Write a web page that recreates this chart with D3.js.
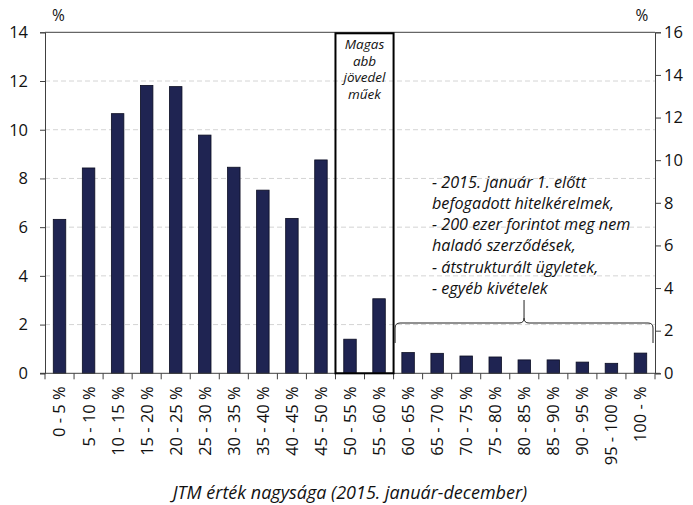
<!DOCTYPE html>
<html>
<head>
<meta charset="utf-8">
<script src="https://cdn.jsdelivr.net/npm/d3@7"></script>
<style>
  html, body { margin: 0; padding: 0; background: #fff; }
  svg { display: block; }
</style>
</head>
<body>
<svg id="chart" width="693" height="505"></svg>
<script>
// JTM value bands (share of contracts, %)
const categories = ["0 - 5 %", "5 - 10 %", "10 - 15 %", "15 - 20 %", "20 - 25 %", "25 - 30 %",
  "30 - 35 %", "35 - 40 %", "40 - 45 %", "45 - 50 %", "50 - 55 %", "55 - 60 %",
  "60 - 65 %", "65 - 70 %", "70 - 75 %", "75 - 80 %", "80 - 85 %", "85 - 90 %",
  "90 - 95 %", "95 - 100 %", "100 - %"];
const shares = [6.32, 8.43, 10.66, 11.82, 11.77, 9.78, 8.46, 7.52, 6.36, 8.76,
  1.40, 3.06, 0.85, 0.82, 0.71, 0.67, 0.55, 0.55, 0.46, 0.41, 0.83];
const leftTicks = [0, 2, 4, 6, 8, 10, 12, 14];
const rightTicks = [0, 2, 4, 6, 8, 10, 12, 14, 16];
const boxCategories = ["50 - 55 %", "55 - 60 %"];
const braceCategories = ["60 - 65 %", "100 - %"];
const boxLabel = ["Magas", "abb", "jövedel", "műek"];
const noteLines = ["- 2015. január 1. előtt", "befogadott hitelkérelmek,",
  "- 200 ezer forintot meg nem", "haladó szerződések,",
  "- átstrukturált ügyletek,", "- egyéb kivételek"];
const xTitle = "JTM érték nagysága (2015. január-december)";

const W = 693, H = 505;
const margin = { top: 32.3, right: 38, bottom: 131.7, left: 45 };
const svg = d3.select("#chart");
const font = "'Open Sans', sans-serif";

const x = d3.scaleBand().domain(categories)
  .range([margin.left, W - margin.right])
  .paddingInner(0.57).paddingOuter(0.285);
const y = d3.scaleLinear().domain([0, 14]).range([H - margin.bottom, margin.top]);
const yR = d3.scaleLinear().domain([0, 16]).range([H - margin.bottom, margin.top]);
const x0 = margin.left, x1 = W - margin.right;
const y0 = y(0), yTop = y(14);

// dashed gridlines
svg.append("g").selectAll("line")
  .data(leftTicks.filter(d => d > 0 && d < 14))
  .join("line")
  .attr("x1", x0).attr("x2", x1)
  .attr("y1", d => y(d)).attr("y2", d => y(d))
  .attr("stroke", "#d4d4d4").attr("stroke-width", 1)
  .attr("stroke-dasharray", "5,3");

// top border
svg.append("line").attr("x1", x0).attr("x2", x1).attr("y1", yTop).attr("y2", yTop)
  .attr("stroke", "#404040").attr("stroke-width", 1);

// bars
svg.append("g").selectAll("rect")
  .data(shares)
  .join("rect")
  .attr("x", (d, i) => x(categories[i]))
  .attr("width", x.bandwidth())
  .attr("y", d => y(d))
  .attr("height", d => y0 - y(d))
  .attr("fill", "#1f2452")
  .attr("stroke", "#0b0d22").attr("stroke-width", 0.8);

// left and right value axes
const leftAxis = svg.append("g").attr("transform", `translate(${x0},0)`)
  .call(d3.axisLeft(y).tickValues(leftTicks).tickSize(5).tickPadding(12).tickFormat(d3.format("d")));
const rightAxis = svg.append("g").attr("transform", `translate(${x1},0)`)
  .call(d3.axisRight(yR).tickValues(rightTicks).tickSize(6).tickPadding(3).tickFormat(d3.format("d")));
[leftAxis, rightAxis].forEach(g => {
  g.select(".domain").attr("stroke", "#404040");
  g.selectAll(".tick line").attr("stroke", "#404040");
  g.selectAll("text").attr("font-family", font).attr("font-size", 16.5).attr("fill", "#111");
});

// category axis with ticks at band boundaries
const step = x.step();
const bounds = d3.range(categories.length + 1).map(i => x0 + i * step);
svg.append("line").attr("x1", x0 - 5).attr("x2", x1 + 5).attr("y1", y0).attr("y2", y0)
  .attr("stroke", "#404040").attr("stroke-width", 1);
svg.append("g").selectAll("line").data(bounds).join("line")
  .attr("x1", d => d).attr("x2", d => d).attr("y1", y0).attr("y2", y0 + 6)
  .attr("stroke", "#404040");
svg.append("g").selectAll("text").data(categories).join("text")
  .attr("transform", d => `translate(${x(d) + x.bandwidth() / 2},${y0 + 13}) rotate(-90)`)
  .attr("text-anchor", "end").attr("dy", "0.36em")
  .attr("font-family", font).attr("font-size", 16.5).attr("fill", "#111")
  .text(d => d);

// unit labels
svg.append("text").attr("x", 58.5).attr("y", 21).attr("text-anchor", "middle")
  .attr("font-family", font).attr("font-size", 15.5).attr("fill", "#111").text("%");
svg.append("text").attr("x", 642).attr("y", 21).attr("text-anchor", "middle")
  .attr("font-family", font).attr("font-size", 15.5).attr("fill", "#111").text("%");

// framed box around the 50-60 % bands
const bx0 = x(boxCategories[0]) - x.step() * x.paddingInner() / 2;
const bx1 = x(boxCategories[1]) + x.bandwidth() + x.step() * x.paddingInner() / 2;
svg.append("rect").attr("x", bx0).attr("y", yTop + 1).attr("width", bx1 - bx0)
  .attr("height", y0 - yTop - 1)
  .attr("fill", "none").attr("stroke", "#000").attr("stroke-width", 2);
svg.append("g").selectAll("text").data(boxLabel).join("text")
  .attr("x", (bx0 + bx1) / 2).attr("y", (d, i) => 49 + i * 16.6)
  .attr("text-anchor", "middle").attr("font-family", font)
  .attr("font-style", "italic").attr("font-size", 13.5).attr("fill", "#111")
  .text(d => d);

// curly brace over the 60 %+ bands
const cx0 = x(braceCategories[0]) - x.step() * x.paddingInner() / 2 + 1.5;
const cx1 = x(braceCategories[1]) + x.bandwidth() + x.step() * x.paddingInner() / 2 - 2;
const cm = (cx0 + cx1) / 2;
const by = 323, bBot = 343, bTip = 300, r = 5;
const brace = d3.path();
brace.moveTo(cx0, bBot);
brace.lineTo(cx0, by + r);
brace.quadraticCurveTo(cx0, by, cx0 + r, by);
brace.lineTo(cm - r, by);
brace.quadraticCurveTo(cm, by, cm, by - r);
brace.lineTo(cm, bTip);
brace.moveTo(cm, by - r);
brace.quadraticCurveTo(cm, by, cm + r, by);
brace.lineTo(cx1 - r, by);
brace.quadraticCurveTo(cx1, by, cx1, by + r);
brace.lineTo(cx1, bBot);
svg.append("path").attr("d", brace.toString())
  .attr("fill", "none").attr("stroke", "#222").attr("stroke-width", 1);

// note text
svg.append("g").selectAll("text").data(noteLines).join("text")
  .attr("x", 432).attr("y", (d, i) => 187.5 + i * 21.3)
  .attr("font-family", font).attr("font-style", "italic")
  .attr("font-size", 16.2).attr("fill", "#111")
  .text(d => d);

// axis title
svg.append("text").attr("x", 350).attr("y", 499).attr("text-anchor", "middle")
  .attr("font-family", font).attr("font-style", "italic")
  .attr("font-size", 18).attr("fill", "#111")
  .text(xTitle);
</script>
</body>
</html>
